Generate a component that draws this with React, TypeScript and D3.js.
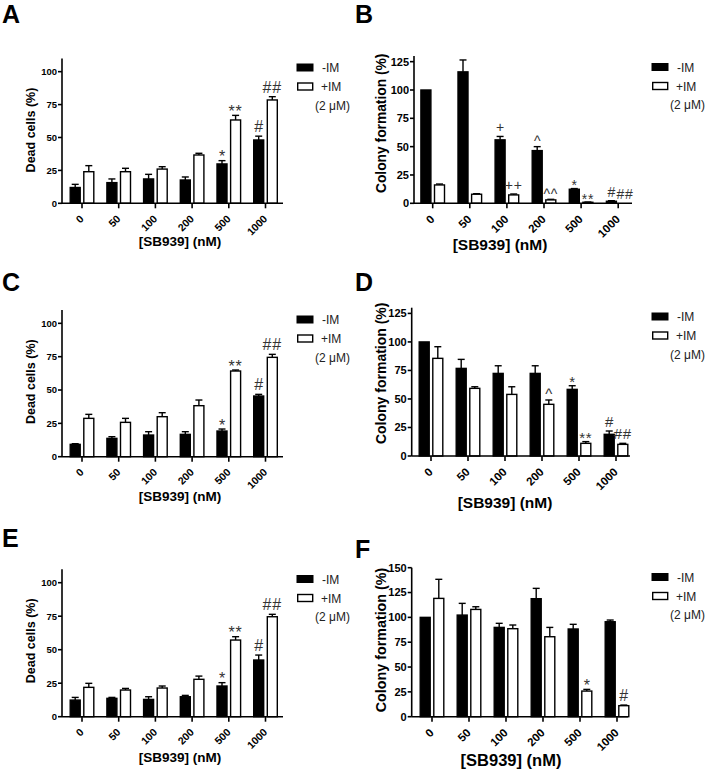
import React from "react";
import * as d3 from "d3";

// ---------- data ----------
const categories = ["0", "50", "100", "200", "500", "1000"];
const seriesNames = ["-IM", "+IM"];
const legendNote = "(2 \u03bcM)";
const xTitle = "[SB939] (nM)";
const deadTitle = "Dead cells (%)";
const colonyTitle = "Colony formation (%)";

const deadTicks = [0, 25, 50, 75, 100];
const colonyTicks = [0, 25, 50, 75, 100, 125];
const colonyTicksF = [0, 25, 50, 75, 100, 125, 150];

const aMinus = [12, 15.7, 18.5, 17.7, 29.9, 48.1];
const aMinusErr = [2.4, 2.8, 3.5, 2.3, 2.5, 2.9];
const aPlus = [24, 24, 26, 36.7, 63.3, 78.5];
const aPlusErr = [4.6, 2.6, 1.8, 1.3, 3.5, 2.5];

const bMinus = [100, 116, 56, 46.5, 12.4, 1.8];
const bMinusErr = [0, 10.5, 3, 3.5, 0.6, 0.5];
const bPlus = [16.2, 8, 7.4, 3, 0.9, 0];
const bPlusErr = [0.8, 0.5, 0.8, 0.5, 0.2, 0];

const cMinus = [9.25, 13.75, 16.25, 16.75, 19.25, 45.5];
const cMinusErr = [0.5, 1.25, 2.5, 2, 1.5, 1.25];
const cPlus = [28.75, 25.75, 30, 38.25, 64.25, 74.5];
const cPlusErr = [3, 3, 3, 4.25, 0.75, 2.25];

const dMinus = [100, 76.8, 72.4, 72.4, 58.4, 19];
const dMinusErr = [0, 7.9, 6.7, 6.7, 3.2, 2.9];
const dPlus = [85.6, 59.3, 54, 45.3, 11.1, 10.2];
const dPlusErr = [10.2, 1.4, 6.7, 3.8, 1.5, 0.9];

const eMinus = [12.4, 13.7, 12.9, 14.9, 22.9, 42.3];
const eMinusErr = [2, 0.7, 2, 1, 2.5, 3.7];
const ePlus = [21.9, 19.9, 21.4, 27.9, 57.2, 74.6];
const ePlusErr = [3, 1.2, 1.5, 2.4, 2.5, 1.8];

const fMinus = [100, 102.3, 89.9, 118.8, 88.3, 95.6];
const fMinusErr = [0, 11.8, 4.1, 10.4, 4.7, 1.7];
const fPlus = [119.1, 108, 88.6, 80.5, 25.8, 11.1];
const fPlusErr = [19.2, 2.7, 3.7, 9.4, 1.7, 0.6];

// annotations: [series index, category index, symbol]
const annotDead: [number, number, string][] = [
  [0, 4, "*"], [1, 4, "**"], [0, 5, "#"], [1, 5, "##"],
];
const annotB: [number, number, string][] = [
  [0, 2, "+"], [1, 2, "++"], [0, 3, "^"], [1, 3, "^^"],
  [0, 4, "*"], [1, 4, "**"], [0, 5, "#"], [1, 5, "##"],
];
const annotD: [number, number, string][] = [
  [1, 3, "^"], [0, 4, "*"], [1, 4, "**"], [0, 5, "#"], [1, 5, "##"],
];
const annotF: [number, number, string][] = [[1, 4, "*"], [1, 5, "#"]];

// ---------- layout ----------
const FONT = "'Liberation Sans', Arial, Helvetica, sans-serif";

type PanelCfg = {
  letter: string;
  letterX: number; letterY: number;
  axisX: number; y0: number; plotH: number; yMax: number;
  ticks: number[];
  firstCenter: number; step: number; axisEnd: number;
  minus: number[]; minusErr: number[]; plus: number[]; plusErr: number[];
  annots: [number, number, string][];
  annFs: number;
  yTitle: string; yTitleX: number; yTitleY: number; yTitleFs: number;
  xTitleX: number; xTitleY: number; xTitleFs: number;
  tickFs: number; xTickFs: number;
  legX: number; legY: number;
};

const panels: PanelCfg[] = [
  {
    letter: "A", letterX: 2, letterY: 23,
    axisX: 62, y0: 203.3, plotH: 144.8, yMax: 110, ticks: deadTicks,
    firstCenter: 82, step: 36.7, axisEnd: 283,
    minus: aMinus, minusErr: aMinusErr, plus: aPlus, plusErr: aPlusErr,
    annots: annotDead, annFs: 16,
    yTitle: deadTitle, yTitleX: 30, yTitleY: 130, yTitleFs: 12.5,
    xTitleX: 180, xTitleY: 246, xTitleFs: 13.5,
    tickFs: 9.5, xTickFs: 10.5,
    legX: 297, legY: 64,
  },
  {
    letter: "B", letterX: 355, letterY: 23,
    axisX: 414, y0: 203.3, plotH: 147.3, yMax: 130, ticks: colonyTicks,
    firstCenter: 432.7, step: 37.1, axisEnd: 632,
    minus: bMinus, minusErr: bMinusErr, plus: bPlus, plusErr: bPlusErr,
    annots: annotB, annFs: 14,
    yTitle: colonyTitle, yTitleX: 381, yTitleY: 123.3, yTitleFs: 13.8,
    xTitleX: 500, xTitleY: 250, xTitleFs: 15.5,
    tickFs: 11, xTickFs: 11.5,
    legX: 652, legY: 63.5,
  },
  {
    letter: "C", letterX: 2, letterY: 291,
    axisX: 62, y0: 456.7, plotH: 146.7, yMax: 110, ticks: deadTicks,
    firstCenter: 82, step: 36.7, axisEnd: 283,
    minus: cMinus, minusErr: cMinusErr, plus: cPlus, plusErr: cPlusErr,
    annots: annotDead, annFs: 16,
    yTitle: deadTitle, yTitleX: 30, yTitleY: 381.7, yTitleFs: 12.5,
    xTitleX: 180, xTitleY: 500.5, xTitleFs: 13.5,
    tickFs: 9.5, xTickFs: 10.5,
    legX: 297, legY: 316,
  },
  {
    letter: "D", letterX: 355, letterY: 291,
    axisX: 411.7, y0: 456, plotH: 148.3, yMax: 130, ticks: colonyTicks,
    firstCenter: 431, step: 37, axisEnd: 630,
    minus: dMinus, minusErr: dMinusErr, plus: dPlus, plusErr: dPlusErr,
    annots: annotD, annFs: 15,
    yTitle: colonyTitle, yTitleX: 381, yTitleY: 373.3, yTitleFs: 14,
    xTitleX: 505, xTitleY: 508, xTitleFs: 15.5,
    tickFs: 11, xTickFs: 11.5,
    legX: 652, legY: 313,
  },
  {
    letter: "E", letterX: 2, letterY: 547,
    axisX: 62, y0: 716.7, plotH: 147.4, yMax: 110, ticks: deadTicks,
    firstCenter: 82, step: 36.7, axisEnd: 283,
    minus: eMinus, minusErr: eMinusErr, plus: ePlus, plusErr: ePlusErr,
    annots: annotDead, annFs: 16,
    yTitle: deadTitle, yTitleX: 30, yTitleY: 640.8, yTitleFs: 12.5,
    xTitleX: 180, xTitleY: 762, xTitleFs: 13.5,
    tickFs: 9.5, xTickFs: 10.5,
    legX: 297, legY: 575.5,
  },
  {
    letter: "F", letterX: 355, letterY: 558,
    axisX: 411.7, y0: 716.7, plotH: 149, yMax: 150, ticks: colonyTicksF,
    firstCenter: 432, step: 37, axisEnd: 628,
    minus: fMinus, minusErr: fMinusErr, plus: fPlus, plusErr: fPlusErr,
    annots: annotF, annFs: 16,
    yTitle: colonyTitle, yTitleX: 381, yTitleY: 640, yTitleFs: 14.3,
    xTitleX: 511, xTitleY: 766, xTitleFs: 16.5,
    tickFs: 11, xTickFs: 11.5,
    legX: 652, legY: 573.5,
  },
];

const BAR_W = 10;
const HALF_GAP = 1.8;

function symbolOffset(sym: string) {
  const c = sym[0];
  if (c === "*") return 1.5;
  if (c === "^") return -0.5;
  return -4;
}

function Panel({ p }: { p: PanelCfg }) {
  const y = d3.scaleLinear().domain([0, p.yMax]).range([p.y0, p.y0 - p.plotH]);
  const x = d3
    .scaleBand<string>()
    .domain(categories)
    .range([p.firstCenter - p.step / 2, p.firstCenter + p.step * (categories.length - 0.5)])
    .padding(0);
  const cx = (c: string) => (x(c) as number) + x.bandwidth() / 2;
  const series = [
    { vals: p.minus, errs: p.minusErr, fill: "#000" },
    { vals: p.plus, errs: p.plusErr, fill: "#fff" },
  ];
  const barX = (si: number, c: string) =>
    si === 0 ? cx(c) - HALF_GAP - BAR_W : cx(c) + HALF_GAP;

  return (
    <g>
      <text x={p.letterX} y={p.letterY} fontFamily={FONT} fontWeight="bold" fontSize={25}>
        {p.letter}
      </text>
      {/* bars */}
      {series.map((s, si) =>
        categories.map((c, ci) => {
          const v = s.vals[ci];
          const e = s.errs[ci];
          const bx = barX(si, c);
          const mid = bx + BAR_W / 2;
          const top = y(v);
          return (
            <g key={`${si}-${ci}`}>
              {e > 0 && (
                <g stroke="#000" strokeWidth={1.4}>
                  <line x1={mid} x2={mid} y1={top} y2={y(v + e)} />
                  <line x1={mid - 3.5} x2={mid + 3.5} y1={y(v + e)} y2={y(v + e)} />
                </g>
              )}
              {v > 0 && (
                <rect
                  x={bx}
                  y={top}
                  width={BAR_W}
                  height={Math.max(0, p.y0 - top)}
                  fill={s.fill}
                  stroke="#000"
                  strokeWidth={1.4}
                />
              )}
            </g>
          );
        })
      )}
      {/* annotations */}
      {p.annots.map(([si, ci, sym], i) => {
        const c = categories[ci];
        const s = series[si];
        const mid = barX(si, c) + BAR_W / 2;
        const topV = s.vals[ci] + s.errs[ci];
        return (
          <text
            key={"an" + i}
            x={mid}
            y={y(topV) + symbolOffset(sym)}
            textAnchor="middle"
            fontFamily={FONT}
            fontSize={p.annFs}
            letterSpacing={sym.length > 1 ? 0.8 : 0}
            fill="#333"
          >
            {sym}
          </text>
        );
      })}
      {/* axes */}
      <g stroke="#000" strokeWidth={1.6} fill="none">
        <line x1={p.axisX} x2={p.axisX} y1={p.y0} y2={y(p.yMax)} />
        <line x1={p.axisX} x2={p.axisEnd} y1={p.y0} y2={p.y0} />
        {p.ticks.map((t) => (
          <line key={"yt" + t} x1={p.axisX - 4} x2={p.axisX} y1={y(t)} y2={y(t)} />
        ))}
        {categories.map((c) => (
          <line key={"xt" + c} x1={cx(c)} x2={cx(c)} y1={p.y0} y2={p.y0 + 5} />
        ))}
      </g>
      {p.ticks.map((t) => (
        <text
          key={"ytl" + t}
          x={p.axisX - 5}
          y={y(t) + p.tickFs * 0.36}
          textAnchor="end"
          fontFamily={FONT}
          fontWeight="bold"
          fontSize={p.tickFs}
        >
          {t}
        </text>
      ))}
      {categories.map((c) => {
        const ax = cx(c) + 2.5;
        const ay = p.y0 + 11 + 0.5 * p.xTickFs;
        return (
          <text
            key={"xtl" + c}
            x={ax}
            y={ay}
            textAnchor="end"
            transform={`rotate(-45 ${ax} ${ay})`}
            fontFamily={FONT}
            fontWeight="bold"
            fontSize={p.xTickFs}
          >
            {c}
          </text>
        );
      })}
      <text
        x={p.xTitleX}
        y={p.xTitleY}
        textAnchor="middle"
        fontFamily={FONT}
        fontWeight="bold"
        fontSize={p.xTitleFs}
      >
        {xTitle}
      </text>
      <text
        transform={`translate(${p.yTitleX},${p.yTitleY}) rotate(-90)`}
        y={p.yTitleFs * 0.36}
        textAnchor="middle"
        fontFamily={FONT}
        fontWeight="bold"
        fontSize={p.yTitleFs}
      >
        {p.yTitle}
      </text>
      {/* legend */}
      <g fontFamily={FONT} fontSize={12} fill="#222">
        <rect x={p.legX} y={p.legY} width={16} height={7} fill="#000" stroke="#000" strokeWidth={1} />
        <text x={p.legX + 25} y={p.legY + 8}>{seriesNames[0]}</text>
        <rect x={p.legX + 0.7} y={p.legY + 19} width={15} height={7} fill="#fff" stroke="#000" strokeWidth={1.4} />
        <text x={p.legX + 24} y={p.legY + 27}>{seriesNames[1]}</text>
        <text x={p.legX + 18} y={p.legY + 45.5}>{legendNote}</text>
      </g>
    </g>
  );
}

export default function App() {
  return (
    <svg
      width={710}
      height={775}
      viewBox="0 0 710 775"
      style={{ position: "absolute", left: 0, top: 0, background: "#fff" }}
    >
      <rect x={0} y={0} width={710} height={775} fill="#fff" />
      {panels.map((p) => (
        <Panel key={p.letter} p={p} />
      ))}
    </svg>
  );
}
